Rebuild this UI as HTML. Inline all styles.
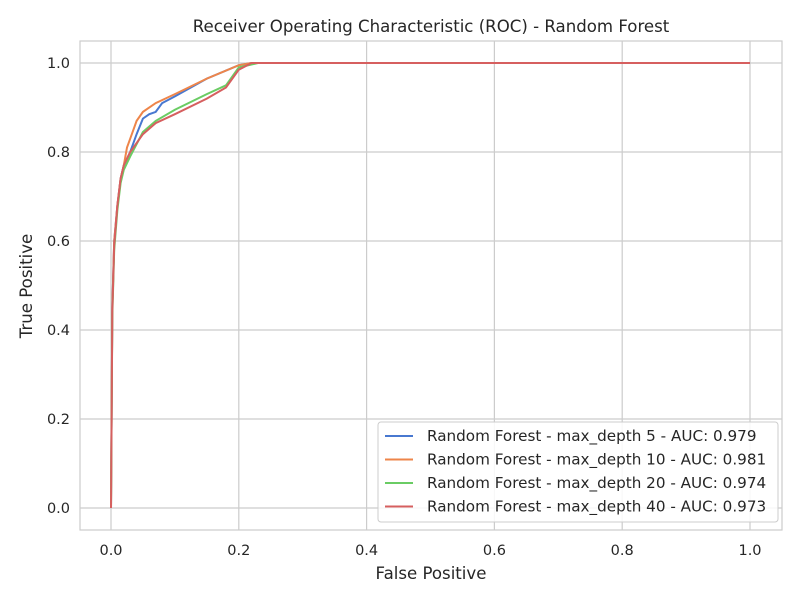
<!DOCTYPE html>
<html><head><meta charset="utf-8"><style>
body{margin:0;background:#fff;font-family:"Liberation Sans","DejaVu Sans",sans-serif}
</style></head><body>
<svg id="c" width="800" height="600" xmlns="http://www.w3.org/2000/svg" font-family="DejaVu Sans, Liberation Sans, sans-serif"></svg>
<script>
const xTicks=[0,0.2,0.4,0.6,0.8,1.0];
const yTicks=[0,0.2,0.4,0.6,0.8,1.0];
const seriesNames=["Random Forest - max_depth 5 - AUC: 0.979","Random Forest - max_depth 10 - AUC: 0.981","Random Forest - max_depth 20 - AUC: 0.974","Random Forest - max_depth 40 - AUC: 0.973"];
const colors=["#4878d0","#ee854a","#6acc64","#d65f5f"];
const fpr5=[0,0.002,0.005,0.01,0.015,0.02,0.03,0.04,0.05,0.06,0.07,0.08,0.1,0.15,0.2,0.22,1];
const tpr5=[0,0.45,0.6,0.68,0.74,0.77,0.80,0.84,0.875,0.885,0.89,0.91,0.925,0.965,0.995,1,1];
const fpr10=[0,0.002,0.005,0.01,0.015,0.02,0.025,0.03,0.04,0.05,0.07,0.1,0.15,0.2,0.22,1];
const tpr10=[0,0.45,0.6,0.68,0.74,0.77,0.81,0.83,0.87,0.89,0.91,0.93,0.965,0.995,1,1];
const fpr20=[0,0.002,0.005,0.01,0.015,0.02,0.03,0.05,0.07,0.1,0.15,0.18,0.2,0.23,1];
const tpr20=[0,0.43,0.58,0.67,0.73,0.76,0.79,0.845,0.87,0.895,0.93,0.95,0.99,1,1];
const fpr40=[0,0.002,0.005,0.01,0.015,0.02,0.03,0.05,0.07,0.1,0.15,0.18,0.2,0.22,1];
const tpr40=[0,0.44,0.59,0.68,0.74,0.77,0.80,0.84,0.865,0.885,0.92,0.945,0.985,1,1];
const FPR=[fpr5,fpr10,fpr20,fpr40], TPR=[tpr5,tpr10,tpr20,tpr40];

const svg=document.getElementById('c');const NS="http://www.w3.org/2000/svg";
const L=80,R=782,T=41,B=530;
const sx=v=>111+v*639, sy=v=>508-v*445;
function el(t,a,txt){const e=document.createElementNS(NS,t);for(const k in a)e.setAttribute(k,a[k]);if(txt!=null)e.textContent=txt;svg.appendChild(e);return e;}
let e=el('rect',{x:L,y:T,width:R-L,height:B-T,fill:'#fff',stroke:'#cccccc','stroke-width':1.2});

xTicks.forEach(v=>{let g=el('line',{x1:sx(v),x2:sx(v),y1:T,y2:B,stroke:'#cccccc','stroke-width':1.2});

let t=el('text',{x:sx(v),y:555,'text-anchor':'middle','font-size':14.5,fill:'#262626'},v.toFixed(1));
});
yTicks.forEach(v=>{let g=el('line',{x1:L,x2:R,y1:sy(v),y2:sy(v),stroke:'#cccccc','stroke-width':1.2});

let t=el('text',{x:70,y:sy(v)+5,'text-anchor':'end','font-size':14.5,fill:'#262626'},v.toFixed(1));
});
FPR.forEach((f,i)=>{const d=f.map((x,j)=>(j?'L':'M')+sx(x).toFixed(1)+','+sy(TPR[i][j]).toFixed(1)).join('');
let p=el('path',{d,fill:'none',stroke:colors[i],'stroke-width':2});
});
e=el('text',{x:431,y:32,'text-anchor':'middle','font-size':16.6,fill:'#262626'},'Receiver Operating Characteristic (ROC) - Random Forest');

e=el('text',{x:431,y:579,'text-anchor':'middle','font-size':16.6,fill:'#262626'},'False Positive');

e=el('text',{x:32,y:286,'text-anchor':'middle','font-size':16.6,fill:'#262626',transform:'rotate(-90 32 286)'},'True Positive');

e=el('rect',{x:378,y:422,width:400,height:100,rx:3,fill:'#fff','fill-opacity':0.85,stroke:'#cccccc'});

seriesNames.forEach((n,i)=>{const y=436+i*23.5;
let l=el('line',{x1:385,x2:413,y1:y,y2:y,stroke:colors[i],'stroke-width':2});

let t=el('text',{x:427,y:y+5,'font-size':15.2,fill:'#262626'},n);
});
</script>
</body></html>
